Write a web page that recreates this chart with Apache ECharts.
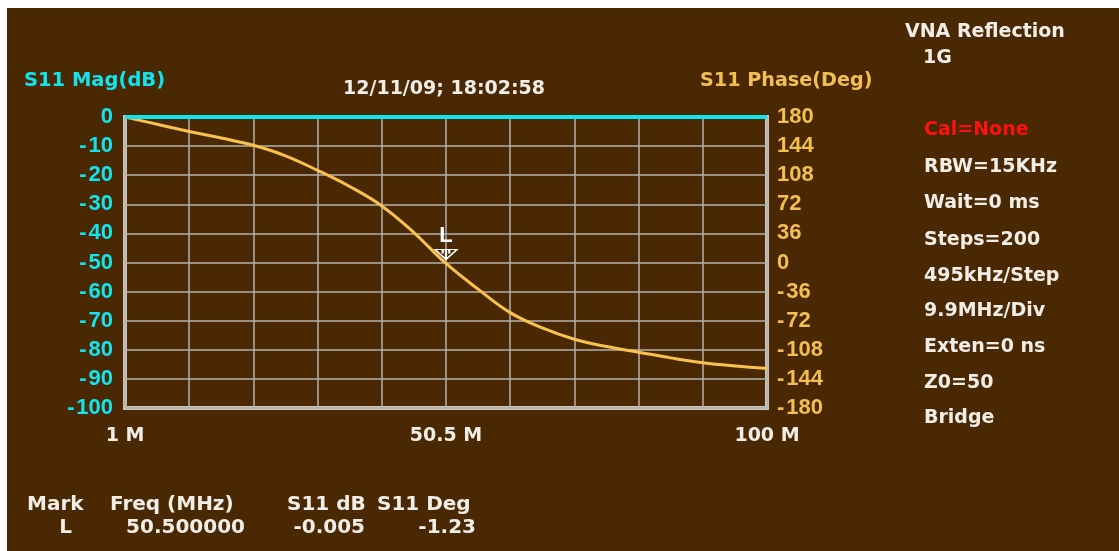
<!DOCTYPE html>
<html>
<head>
<meta charset="utf-8">
<script src="https://cdn.jsdelivr.net/npm/echarts@6/dist/echarts.min.js"></script>
<style>
  html, body { margin: 0; padding: 0; background: #ffffff; }
  #chart { position: absolute; left: 0; top: 0; width: 1119px; height: 551px; }
</style>
</head>
<body>
<div id="chart"></div>
<script>
// ---- data ----
const freqMHz = [1, 5.95, 10.9, 15.85, 20.8, 25.75, 30.7, 35.65, 40.6, 45.55, 50.5,
                 55.45, 60.4, 65.35, 70.3, 75.25, 80.2, 85.15, 90.1, 95.05, 100];
const s11MagDb = [0, 0, 0, 0, 0, 0, 0, 0, 0, 0, 0, 0, 0, 0, 0, 0, 0, 0, 0, 0, 0];
const s11PhaseDeg = [180, 171, 162, 154, 145, 132, 114, 94, 70, 37, -1.23,
                     -33, -62, -81, -95, -104, -111, -118, -124, -128, -131];
const xTickLabels = ['1 M', '', '', '', '', '50.5 M', '', '', '', '', '100 M'];
const magTicks = { min: -100, max: 0, step: 10 };
const phaseTicks = { min: -180, max: 180, step: 36 };
const marker = { name: 'L', freq: 50.5, db: -0.005, deg: -1.23 };
const sidePanel = ['Cal=None', 'RBW=15KHz', 'Wait=0 ms', 'Steps=200', '495kHz/Step',
                   '9.9MHz/Div', 'Exten=0 ns', 'Z0=50', 'Bridge'];
const headerTitle = ['VNA Reflection', '1G'];
const timestamp = '12/11/09; 18:02:58';
const tableHeaders = ['Mark', 'Freq (MHz)', 'S11 dB', 'S11 Deg'];
const tableRow = ['L', '50.500000', '-0.005', '-1.23'];

// ---- styles ----
const BG = '#4b2804';
const CYAN = '#12e4ee';
const ORANGE = '#f3bf52';
const LINE_OR = '#f8c24c';
const WHITE = '#f1eee8';
const GRIDC = '#b3b1ad';
const FRAME = '#c9c4bd';
const F = '"DejaVu Sans", Verdana, sans-serif';
const A = '"Liberation Sans", Arial, sans-serif';

const chart = echarts.init(document.getElementById('chart'), null, { renderer: 'canvas' });

function txt(text, x, y, color, size, align, fam) {
  return {
    type: 'text', x: x, y: y, z: 100,
    style: { text: text, fill: color, font: 'bold ' + size + 'px ' + (fam || F),
             textAlign: align || 'left', textVerticalAlign: 'middle' }
  };
}
const spacedMinus = (v) => String(v).replace('-', '-\u200A');

const graphics = [
  { type: 'rect', shape: { x: 7, y: 8, width: 1112, height: 543 }, style: { fill: BG }, z: -10, silent: true },
  txt('S11 Mag(dB)', 24, 81, CYAN, 19.5),
  txt('S11 Phase(Deg)', 700, 81, ORANGE, 19.2),
  txt(timestamp, 444, 89, WHITE, 19, 'center'),
  txt(headerTitle[0], 905, 32, WHITE, 19),
  txt(headerTitle[1], 923, 58, WHITE, 19)
];
const panelY = [130, 167, 203, 240, 276, 311, 347, 383, 418];
sidePanel.forEach((s, i) => graphics.push(txt(s, 924, panelY[i], i === 0 ? '#ff1010' : WHITE, 19)));
const headX = [27, 110, 287, 377];
tableHeaders.forEach((s, i) => graphics.push(txt(s, headX[i], 505, WHITE, 20)));
const rowX = [72, 245, 365, 476];
tableRow.forEach((s, i) => graphics.push(txt(s, rowX[i], 528, WHITE, 20, 'right')));

const option = {
  backgroundColor: 'transparent',
  animation: false,
  graphic: graphics,
  grid: {
    left: 125, right: 352, top: 117, bottom: 143,
    show: true, borderColor: FRAME, borderWidth: 4, backgroundColor: 'transparent'
  },
  xAxis: [
    {
      type: 'value', min: 0, max: 10, interval: 1,
      axisLine: { show: false }, axisTick: { show: false },
      splitLine: { show: true, lineStyle: { color: GRIDC, width: 1.5 } },
      axisLabel: {
        show: true, margin: 19, color: WHITE, fontSize: 19, fontWeight: 'bold', fontFamily: F,
        formatter: (v) => xTickLabels[Math.round(v)] || ''
      }
    },
    {
      type: 'value', min: freqMHz[0], max: freqMHz[freqMHz.length - 1], show: false
    }
  ],
  yAxis: [
    {
      type: 'value', position: 'left', min: magTicks.min, max: magTicks.max, interval: magTicks.step,
      axisLine: { show: false }, axisTick: { show: false },
      splitLine: { show: true, lineStyle: { color: GRIDC, width: 1.5 } },
      axisLabel: { color: CYAN, fontSize: 22, fontWeight: 'bold', fontFamily: A, margin: 12,
                   formatter: spacedMinus }
    },
    {
      type: 'value', position: 'right', min: phaseTicks.min, max: phaseTicks.max, interval: phaseTicks.step,
      axisLine: { show: false }, axisTick: { show: false }, splitLine: { show: false },
      axisLabel: { color: ORANGE, fontSize: 22, fontWeight: 'bold', fontFamily: A, margin: 10,
                   formatter: spacedMinus }
    }
  ],
  series: [
    {
      name: 'S11 Phase(Deg)', type: 'line', xAxisIndex: 1, yAxisIndex: 1,
      data: freqMHz.map((f, i) => [f, s11PhaseDeg[i]]),
      showSymbol: false, smooth: 0.4, clip: false,
      lineStyle: { color: LINE_OR, width: 3 }, z: 5,
      markPoint: {
        symbol: 'path://M0,0L20,0L10,10ZM7,0L7,4M13,0L13,4M10,0L10,10',
        symbolSize: [22, 10], symbolOffset: [0, -9],
        itemStyle: { color: 'rgba(0,0,0,0)', borderColor: '#ffffff', borderWidth: 1.5 },
        label: { show: true, position: 'top', distance: 2, formatter: marker.name,
                 color: '#ffffff', fontSize: 22, fontWeight: 'bold', fontFamily: A },
        data: [{ coord: [marker.freq, marker.deg] }]
      }
    },
    {
      name: 'S11 Mag(dB)', type: 'line', xAxisIndex: 1, yAxisIndex: 0,
      data: freqMHz.map((f, i) => [f, s11MagDb[i]]),
      showSymbol: false, clip: false,
      lineStyle: { color: CYAN, width: 4 }, z: 6
    }
  ]
};
chart.setOption(option);
</script>
</body>
</html>
